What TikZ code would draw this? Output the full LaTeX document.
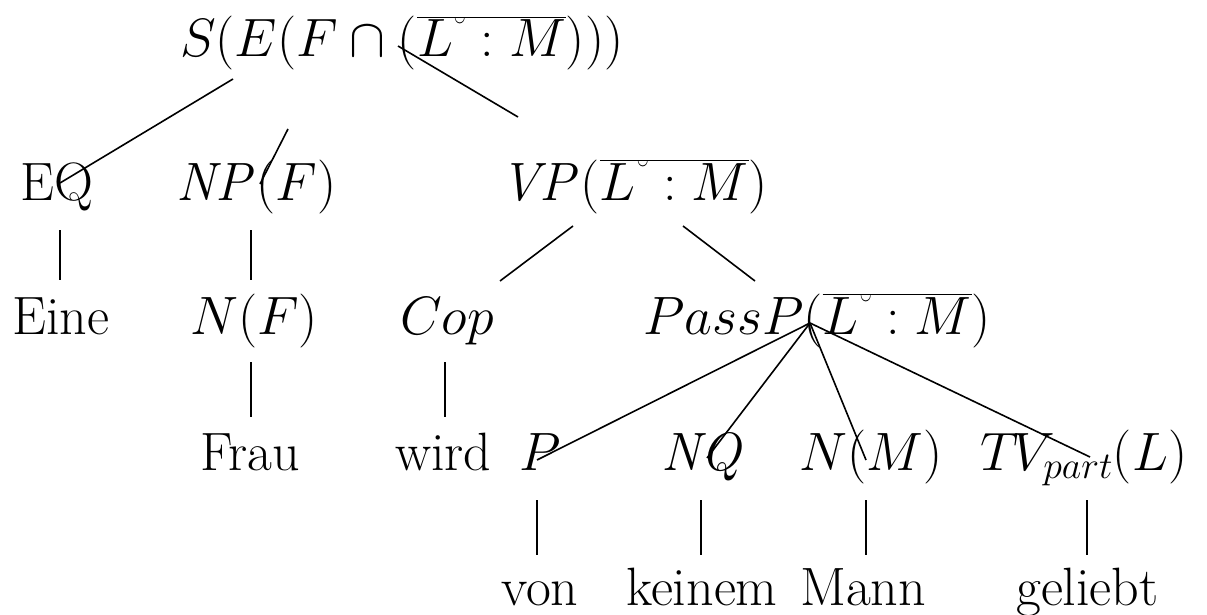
\RequirePackage{fix-cm}
\documentclass[tikz,border=0pt]{standalone}
\newcommand\cnv{\mbox{\kern-1pt\raisebox{14pt}{\fontsize{36}{36}\selectfont\u{}}\kern-3pt}}
\begin{document}
\begin{tikzpicture}[x=1pt,y=-1pt,
  lbl/.style={anchor=base west,inner sep=0pt,font=\fontsize{54}{64}\selectfont},
  edge/.style={line width=1.6pt},
  vedge/.style={line width=2.6pt}]
\useasboundingbox (0,0) rectangle (1207,615);
% row 1
\node[lbl] (S) at (180,57) {$S(E(F\cap(\overline{L\cnv : M})))$};
% row 2
\node[lbl] (EQ) at (20,200) {EQ};
\node[lbl] (NP) at (176,200) {$\mathit{NP}(F)$};
\node[lbl] (VP) at (500,200) {$\mathit{VP}(\overline{L\cnv : M})$};
% row 3
\node[lbl] (Eine) at (12,334) {Eine};
\node[lbl] (NF) at (190,334) {$N(F)$};
\node[lbl] (Cop) at (400,334) {$Cop$};
\node[lbl] (PassP) at (643,334) {$PassP(\overline{L\cnv : M})$};
% row 4
\node[lbl] (Frau) at (200,470) {Frau};
\node[lbl] (wird) at (395,470) {wird};
\node[lbl] (P) at (519,470) {$P$};
\node[lbl] (NQ) at (661,470) {$\mathit{NQ}$};
\node[lbl] (NM) at (799,470) {$N(M)$};
\node[lbl] (TV) at (980,470) {$T\kern-6pt V_{part}(L)$};
% row 5
\node[lbl] (von) at (501,605) {von};
\node[lbl] (keinem) at (626,605) {keinem};
\node[lbl] (Mann) at (800,605) {Mann};
\node[lbl] (geliebt) at (1016,605) {geliebt};
% connector end points
\coordinate (a1) at (233,79);  \coordinate (a2) at (60,183);
\coordinate (b1) at (288,129); \coordinate (b2) at (260,184);
\coordinate (c1) at (398,46);  \coordinate (c2) at (518,117);
\coordinate (d1) at (573,226); \coordinate (d2) at (500,281);
\coordinate (e1) at (683,226); \coordinate (e2) at (755,281);
\coordinate (p0) at (810,323);
\coordinate (p1) at (537,460); \coordinate (p2) at (707,458);
\coordinate (p3) at (866,460); \coordinate (p4) at (1090,457);
\coordinate (v1t) at (60,230);   \coordinate (v1b) at (60,280);
\coordinate (v2t) at (251,230);  \coordinate (v2b) at (251,280);
\coordinate (v3t) at (251,362);  \coordinate (v3b) at (251,417);
\coordinate (v4t) at (445,362);  \coordinate (v4b) at (445,417);
\coordinate (v5t) at (537,500);  \coordinate (v5b) at (537,555);
\coordinate (v6t) at (701,500);  \coordinate (v6b) at (701,555);
\coordinate (v7t) at (866,500);  \coordinate (v7b) at (866,555);
\coordinate (v8t) at (1087,500); \coordinate (v8b) at (1087,555);
% connectors
\draw[edge] (a1) -- (a2);
\draw[edge] (b1) -- (b2);
\draw[edge] (c1) -- (c2);
\draw[edge] (d1) -- (d2);
\draw[edge] (e1) -- (e2);
\draw[edge] (p0) -- (p1);
\draw[edge] (p0) -- (p2);
\draw[edge] (p0) -- (p3);
\draw[edge] (p0) -- (p4);
\draw[vedge] (v1t) -- (v1b);
\draw[vedge] (v2t) -- (v2b);
\draw[vedge] (v3t) -- (v3b);
\draw[vedge] (v4t) -- (v4b);
\draw[vedge] (v5t) -- (v5b);
\draw[vedge] (v6t) -- (v6b);
\draw[vedge] (v7t) -- (v7b);
\draw[vedge] (v8t) -- (v8b);
\end{tikzpicture}
\end{document}
